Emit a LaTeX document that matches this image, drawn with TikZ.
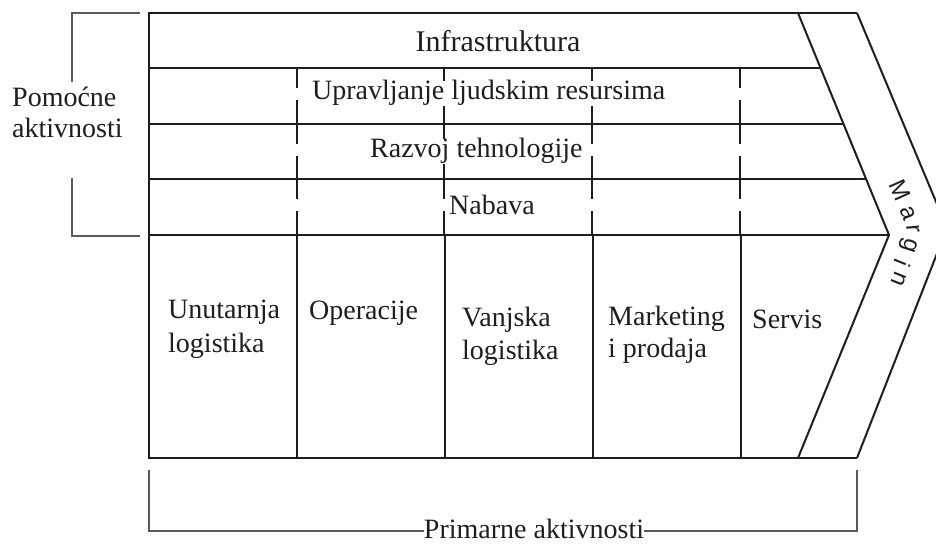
\documentclass[tikz,border=0pt]{standalone}
\usepackage{fontspec}
\setmainfont{Liberation Serif}
\newfontfamily\sansf{Liberation Sans}
\definecolor{ink}{HTML}{1E1E1E}
\definecolor{brkgray}{HTML}{5A5A5A}
\begin{document}
\begin{tikzpicture}[x=1pt,y=-1pt,
  mainln/.style={line width=2pt, draw=ink, line join=miter},
  brk/.style={line width=1.3pt, draw=brkgray},
  dln/.style={line width=1.6pt, draw=ink},
  lbl/.style={font=\fontsize{28}{34}\selectfont, inner sep=0pt, anchor=base west, text=ink},
  mlet/.style={font=\sansf\fontsize{24}{24}\selectfont, inner sep=0pt, text=ink}]
\useasboundingbox (0,0) rectangle (936,545);
\clip (0,0) rectangle (936,545);
\fill[white] (0,0) rectangle (936,545);

% chevron corner coordinates
\coordinate (tl) at (149,13);
\coordinate (bl) at (149,458);
\coordinate (tr) at (857,13);
\coordinate (br) at (857,458);
\coordinate (itop) at (798,13);
\coordinate (iapex) at (889,235);
\coordinate (ibot) at (798,458);
\coordinate (oapex) at (947,228);

% dashed separators in support rows
\foreach \x in {297,444,592,740}{
  \foreach \t/\b in {68/124,124/179,179/235}{
    \draw[dln] (\x,\t) -- (\x,\t+20);
    \draw[dln] (\x,\t+32) -- (\x,\b);
  }
}

% support activity labels (white fill masks dashes)
\node[lbl, anchor=base, font=\fontsize{30}{34}\selectfont] (infra) at (498,52) {Infrastruktura};
\node[lbl, fill=white] (hr) at (312,100) {Upravljanje ljudskim resursima};
\node[lbl, fill=white] (tech) at (370,158) {Razvoj tehnologije};
\node[lbl, fill=white] (proc) at (449,215) {Nabava};

% primary activity labels
\node[lbl] (il1) at (168,318) {Unutarnja};
\node[lbl] (il2) at (168,352) {logistika};
\node[lbl] (op) at (309,319) {Operacije};
\node[lbl] (ol1) at (462,326) {Vanjska};
\node[lbl] (ol2) at (462,359) {logistika};
\node[lbl] (mk1) at (608,325) {Marketing};
\node[lbl] (mk2) at (608,357) {i prodaja};
\node[lbl] (sv) at (752,328) {Servis};

% main frame
\draw[mainln] (tr) -- (tl) -- (bl) -- (br);
\draw[mainln] (itop) -- (iapex) -- (ibot);
\draw[mainln] (tr) -- (oapex) -- (br);

% row separators
\draw[mainln] (149,68) -- (820.5,68);
\draw[mainln] (149,124) -- (843.5,124);
\draw[mainln] (149,179) -- (866,179);
\draw[mainln] (149,235) -- (iapex);

% primary column separators
\foreach \x in {297,445,593,741}{
  \draw[mainln] (\x,235) -- (\x,458);
}

% Margin letters
\node[mlet, rotate=-66] (m1) at (900,190) {M};
\node[mlet, rotate=-68] (m2) at (908,213) {a};
\node[mlet, rotate=-85] (m3) at (913,229) {r};
\node[mlet, rotate=-108] (m4) at (908,245) {g};
\node[mlet, rotate=-112] (m5) at (903,263) {i};
\node[mlet, rotate=-112] (m6) at (899,279) {n};

% left bracket: Pomocne aktivnosti
\node[lbl] (pa1) at (12,107) {Pomoćne};
\node[lbl] (pa2) at (12,138) {aktivnosti};
\draw[brk] (140,13) -- (72,13) -- (72,82);
\draw[brk] (72,178) -- (72,236) -- (140,236);

% bottom bracket: Primarne aktivnosti
\node[lbl, anchor=base] (prim) at (534,538) {Primarne aktivnosti};
\draw[brk] (149,470) -- (149,531) -- (prim.west |- 0,531);
\draw[brk] (prim.east |- 0,531) -- (857,531) -- (857,470);
\end{tikzpicture}
\end{document}
